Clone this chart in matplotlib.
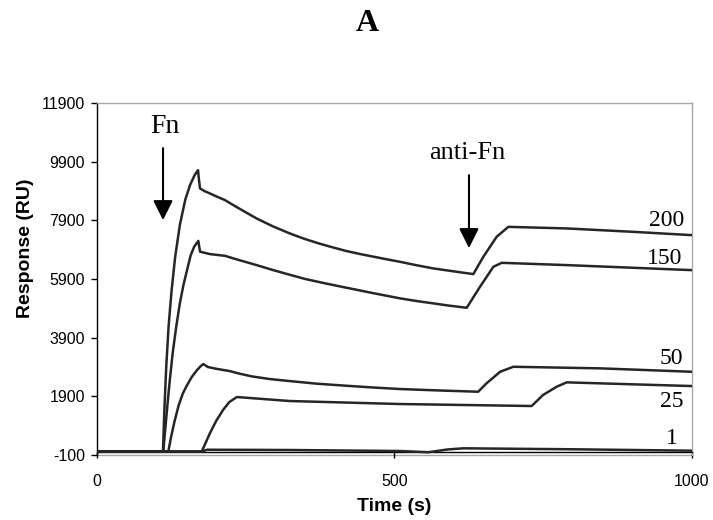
import matplotlib
matplotlib.use('Agg')
import matplotlib.pyplot as plt

SERIF = ['Liberation Serif', 'DejaVu Serif']
SANS = ['Liberation Sans', 'DejaVu Sans']
plt.rcParams['font.family'] = SANS

# ---- data ----
x_ticks = [0, 500, 1000]
y_ticks = [-100, 1900, 3900, 5900, 7900, 9900, 11900]

t200 = [0, 110.5, 113, 116, 120, 125, 131, 139, 148, 156, 164, 169.5, 171, 172.8, 180, 189.6, 200, 215,
        229, 245, 268, 295, 324, 347, 370, 395, 420, 445, 470, 490, 509.6, 537, 565.5, 600, 632.8,
        649.6, 672, 691.7, 790, 902, 1000]
r200 = [20, 20, 1500, 2900, 4300, 5500, 6650, 7750, 8600, 9100, 9450, 9610, 9300, 8990, 8900, 8816, 8720, 8588,
        8418, 8230, 7965, 7700, 7453, 7280, 7130, 6985, 6850, 6740, 6640, 6560, 6486, 6370, 6261, 6160, 6067,
        6656, 7338, 7678, 7624, 7508, 7396]

t150 = [0, 111, 114, 118, 122, 127, 133, 139, 145, 151, 157, 163, 170, 171.5, 173, 190, 215, 229, 268, 296,
        323, 350, 385, 420, 465, 509.5, 537, 565.5, 593, 621.7, 644, 666.5, 680.6, 790, 1000]
r150 = [20, 20, 700, 1600, 2450, 3400, 4300, 5080, 5700, 6200, 6700, 7000, 7200, 7000, 6830, 6748, 6690, 6602,
        6374, 6203, 6050, 5900, 5745, 5600, 5415, 5240, 5150, 5069, 4990, 4919, 5634, 6316, 6452, 6374, 6203]

t50 = [0, 119.5, 124, 130, 137, 144, 151, 159, 168, 175, 178.5, 186, 200, 223, 240, 260, 290, 324, 370, 420,
       465, 509, 575, 641, 655, 678, 700, 846, 1000]
r50 = [20, 20, 500, 1050, 1600, 2000, 2280, 2560, 2800, 2950, 3000, 2900, 2840, 2760, 2670, 2580, 2490, 2420,
       2330, 2260, 2200, 2150, 2100, 2057, 2343, 2738, 2908, 2854, 2738]

t25 = [0, 175.7, 182, 189.7, 200, 211.5, 222, 229, 235, 324, 509, 731, 750, 773, 790, 902, 1000]
r25 = [20, 20, 300, 650, 1060, 1433, 1700, 1800, 1876, 1740, 1638, 1570, 1944, 2227, 2377, 2309, 2251]

t1 = [0, 176, 185, 325, 510, 557, 590, 616, 800, 1000]
r1 = [20, 20, 80, 70, 36, -5, 90, 128, 95, 47]

series_t = [t200, t150, t50, t25, t1]
series_r = [r200, r150, r50, r25, r1]
series_names = ['200', '150', '50', '25', '1']
label_pos_t = [958.8, 955, 966.6, 966.6, 966.6]
label_pos_r = [7907, 6612, 3195, 1716, 469]

events = ['Fn', 'anti-Fn']
event_t = [110.6, 625.5]
event_arrow_top = [10360, 9440]
event_arrow_tip = [7907, 6953]
event_text_t = [114, 622]
event_text_r = [11110, 10190]

# ---- figure ----
fig = plt.figure(figsize=(7.13, 5.2), dpi=100)
ax = fig.add_axes([0.13647, 0.125, 0.8334, 0.6769])
ax.set_xlim(0, 1000)
ax.set_ylim(-100, 11900)

grey = '#a6a6a6'
for s in ['top', 'right']:
    ax.spines[s].set_color(grey)
    ax.spines[s].set_linewidth(1.0)
ax.spines['left'].set_color('black')
ax.spines['left'].set_linewidth(1.0)
ax.spines['bottom'].set_position(('data', 0))
ax.spines['bottom'].set_color('black')
ax.spines['bottom'].set_linewidth(1.0)
ax.plot([0, 1], [0, 0], transform=ax.transAxes, color=grey, lw=1.0, clip_on=False, zorder=1)

ax.set_xticks(x_ticks)
ax.set_yticks(y_ticks)
ax.set_xticklabels([str(v) for v in x_ticks])
ax.set_yticklabels([str(v) for v in y_ticks])
ax.tick_params(axis='both', direction='out', length=4, width=1, color='black', labelsize=11.5)
ax.tick_params(axis='x', pad=12)
ax.tick_params(axis='y', pad=5)

for tt, rr in zip(series_t, series_r):
    ax.plot(tt, rr, color='#262626', lw=1.8, solid_joinstyle='round', solid_capstyle='round', zorder=3)

for name, lt, lr in zip(series_names, label_pos_t, label_pos_r):
    ax.text(lt, lr, name, ha='center', va='center', fontsize=17, family=SERIF, color='black')

for ev, et, top, tip, tx, tr in zip(events, event_t, event_arrow_top, event_arrow_tip, event_text_t, event_text_r):
    ax.annotate('', xy=(et, tip), xytext=(et, top),
                arrowprops=dict(arrowstyle='-|>,head_length=0.6,head_width=0.3', mutation_scale=20,
                                lw=1.5, color='black', shrinkA=0, shrinkB=0))
    ax.text(tx, tr, ev, ha='center', va='center', fontsize=20 if ev == 'Fn' else 19,
            family=SERIF, color='black')

fig.text(0.515, 0.955, 'A', ha='center', va='center', fontsize=23, fontweight='bold', family=SERIF)
fig.text(25 / 713, 1 - 248 / 520, 'Response (RU)', rotation=90, ha='center', va='center',
         fontsize=14, fontweight='bold')
fig.text(394 / 713, 1 - 506.7 / 520, 'Time (s)', ha='center', va='center', fontsize=14, fontweight='bold')

fig.savefig('out.png', dpi=100)
